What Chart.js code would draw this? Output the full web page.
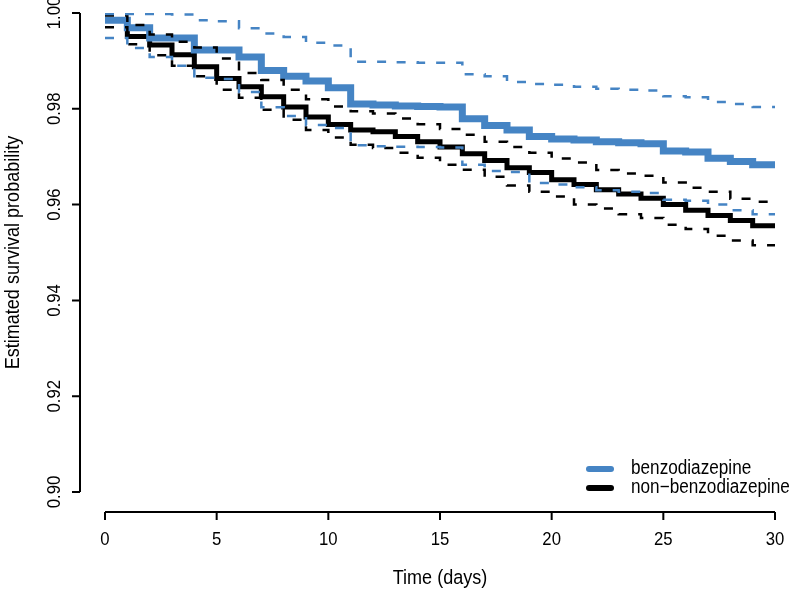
<!DOCTYPE html>
<html>
<head>
<meta charset="utf-8">
<script src="https://cdn.jsdelivr.net/npm/chart.js@4.4.1/dist/chart.umd.min.js"></script>
<style>
  html, body { margin: 0; padding: 0; background: #fff; }
</style>
</head>
<body>
<canvas id="km" width="800" height="592"></canvas>
<script>
// Kaplan-Meier estimates, one value per day interval [d, d+1), last point repeats day 29
const days = [0, 1, 2, 3, 4, 5, 6, 7, 8, 9, 10, 11, 12, 13, 14, 15, 16, 17, 18, 19, 20,
              21, 22, 23, 24, 25, 26, 27, 28, 29, 30];

const benzo = [0.9985, 0.9969, 0.9948, 0.9948, 0.9923, 0.9923, 0.9908, 0.9880, 0.9868, 0.9858,
               0.9844, 0.9810, 0.9808, 0.9806, 0.9805, 0.9804, 0.9779, 0.9765, 0.9756, 0.9742,
               0.9737, 0.9735, 0.9731, 0.9729, 0.9727, 0.9712, 0.9710, 0.9697, 0.9690, 0.9683, 0.9683];
const benzoUpper = [0.9998, 0.9998, 0.9998, 0.9997, 0.9985, 0.9983, 0.9968, 0.9957, 0.9950, 0.9938,
                    0.9932, 0.9898, 0.9898, 0.9897, 0.9896, 0.9896, 0.9872, 0.9868, 0.9856, 0.9852,
                    0.9850, 0.9846, 0.9842, 0.9840, 0.9838, 0.9826, 0.9824, 0.9814, 0.9810, 0.9804, 0.9804];
const benzoLower = [0.9948, 0.9927, 0.9908, 0.9890, 0.9865, 0.9862, 0.9835, 0.9803, 0.9785, 0.9766,
                    0.9760, 0.9724, 0.9722, 0.9721, 0.9720, 0.9719, 0.9683, 0.9670, 0.9668, 0.9645,
                    0.9642, 0.9636, 0.9630, 0.9627, 0.9624, 0.9610, 0.9608, 0.9600, 0.9588, 0.9580, 0.9580];

const nonBenzo = [0.9986, 0.9951, 0.9933, 0.9913, 0.9888, 0.9863, 0.9846, 0.9825, 0.9804, 0.9783,
                  0.9767, 0.9756, 0.9752, 0.9742, 0.9731, 0.9720, 0.9706, 0.9692, 0.9677, 0.9667,
                  0.9652, 0.9642, 0.9631, 0.9622, 0.9613, 0.9600, 0.9588, 0.9577, 0.9567, 0.9556, 0.9556];
const nonBenzoUpper = [0.9995, 0.9975, 0.9955, 0.9940, 0.9928, 0.9905, 0.9875, 0.9860, 0.9840, 0.9820,
                       0.9805, 0.9795, 0.9790, 0.9780, 0.9768, 0.9758, 0.9746, 0.9731, 0.9720, 0.9708,
                       0.9696, 0.9688, 0.9672, 0.9665, 0.9660, 0.9646, 0.9635, 0.9627, 0.9612, 0.9606, 0.9606];
const nonBenzoLower = [0.9970, 0.9935, 0.9912, 0.9890, 0.9868, 0.9840, 0.9823, 0.9798, 0.9777, 0.9756,
                       0.9740, 0.9725, 0.9718, 0.9708, 0.9698, 0.9683, 0.9673, 0.9658, 0.9640, 0.9627,
                       0.9617, 0.9600, 0.9592, 0.9580, 0.9572, 0.9558, 0.9549, 0.9535, 0.9525, 0.9515, 0.9515];

const xTicks = [0, 5, 10, 15, 20, 25, 30];
const yTicks = [0.90, 0.92, 0.94, 0.96, 0.98, 1.00];
const groups = ['benzodiazepine', 'non\u2212benzodiazepine'];

const BLUE = '#4584c4';
const LIGHT_BLUE = '#8db4de';
const FONT = '"Liberation Sans", Arial, sans-serif';
const SQUEEZE = 0.88; // the original type is a narrow face

const toPoints = (vals) => days.map((d, i) => ({ x: d, y: vals[i] }));

const stepLine = (vals, color, width, dash) => ({
    data: toPoints(vals),
    borderColor: color,
    borderWidth: width,
    borderDash: dash || [],
    stepped: 'before',
    pointRadius: 0,
    fill: false,
    borderCapStyle: 'butt',
    borderJoinStyle: 'miter'
});

// narrow text: squeeze along the reading direction
const narrowText = (ctx, text, x, y, size, rotated) => {
    ctx.save();
    ctx.font = size + 'px ' + FONT;
    ctx.translate(x, y);
    if (rotated) ctx.rotate(-Math.PI / 2);
    ctx.scale(SQUEEZE, 1);
    ctx.fillText(text, 0, 0);
    ctx.restore();
};

// R style axes, detached from the plot region
const baseAxes = {
    id: 'baseAxes',
    afterDraw(chart) {
        const { ctx, scales: { x, y } } = chart;
        const axisX = 80;
        const axisY = 512;
        ctx.save();
        ctx.strokeStyle = '#000';
        ctx.fillStyle = '#000';
        ctx.lineWidth = 2;

        ctx.beginPath();
        ctx.moveTo(axisX, y.getPixelForValue(yTicks[0]));
        ctx.lineTo(axisX, y.getPixelForValue(yTicks[yTicks.length - 1]));
        yTicks.forEach(t => {
            const py = y.getPixelForValue(t);
            ctx.moveTo(axisX, py);
            ctx.lineTo(axisX - 8, py);
        });
        ctx.moveTo(x.getPixelForValue(xTicks[0]), axisY);
        ctx.lineTo(x.getPixelForValue(xTicks[xTicks.length - 1]), axisY);
        xTicks.forEach(t => {
            const px = x.getPixelForValue(t);
            ctx.moveTo(px, axisY);
            ctx.lineTo(px, axisY + 8);
        });
        ctx.stroke();

        ctx.textAlign = 'center';
        ctx.textBaseline = 'middle';
        yTicks.forEach(t => narrowText(ctx, t.toFixed(2), 55, y.getPixelForValue(t), 19, true));
        xTicks.forEach(t => narrowText(ctx, String(t), x.getPixelForValue(t), 540, 19));

        narrowText(ctx, 'Time (days)', (x.left + x.right) / 2, 578, 20.5);
        narrowText(ctx, 'Estimated survival probability', 13, (y.top + y.bottom) / 2, 20.5, true);

        // legend
        const legendColors = [BLUE, '#000'];
        ctx.textAlign = 'left';
        groups.forEach((name, i) => {
            const ly = 469 + i * 19;
            ctx.strokeStyle = legendColors[i];
            ctx.lineWidth = 6;
            ctx.lineCap = 'round';
            ctx.beginPath();
            ctx.moveTo(589, ly);
            ctx.lineTo(611, ly);
            ctx.stroke();
            narrowText(ctx, name, 631, ly, 19.5);
        });
        ctx.restore();
    }
};

new Chart(document.getElementById('km'), {
    type: 'line',
    data: {
        datasets: [
            stepLine(benzoUpper, BLUE, 2.5, [9, 11]),
            stepLine(benzoLower, BLUE, 2.5, [9, 11]),
            stepLine(nonBenzoUpper, '#000', 2.5, [9, 11]),
            stepLine(nonBenzoLower, '#000', 2.5, [9, 11]),
            stepLine(benzo, BLUE, 7),
            stepLine(benzo, LIGHT_BLUE, 1.5),
            stepLine(nonBenzo, '#000', 5)
        ]
    },
    options: {
        responsive: false,
        animation: false,
        layout: { padding: { left: 105, right: 25, top: 13, bottom: 100 } },
        scales: {
            x: { type: 'linear', min: 0, max: 30, display: false },
            y: { type: 'linear', min: 0.90, max: 1.00, display: false }
        },
        plugins: {
            legend: { display: false },
            tooltip: { enabled: false }
        }
    },
    plugins: [baseAxes]
});
</script>
</body>
</html>
